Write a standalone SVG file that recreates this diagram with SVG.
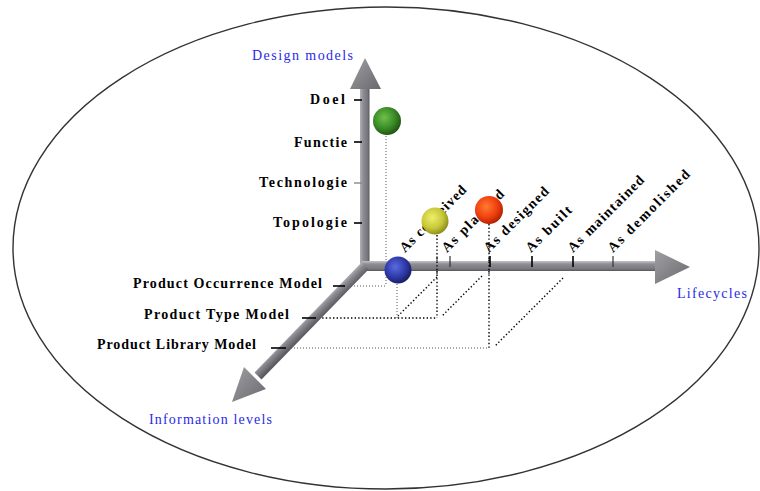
<svg xmlns="http://www.w3.org/2000/svg" width="760" height="491" viewBox="0 0 760 491">
  <style>
    .lbl { font-family: "Liberation Serif", "Times New Roman", serif; font-size: 14px; font-weight: bold; fill: #000; }
    .axis-title { font-family: "Liberation Serif", "Times New Roman", serif; font-size: 14px; fill: #2a2ae6; }
    .tick { stroke: #000; stroke-width: 1.6; }
    .dot-heavy { stroke: #000; stroke-width: 1.4; stroke-dasharray: 1.4 2.2; fill: none; }
    .dot-light { stroke: #555; stroke-width: 1; stroke-dasharray: 1 2; fill: none; }
  </style>
  <defs>
    <linearGradient id="shaftH" x1="0" y1="0" x2="0" y2="1">
      <stop offset="0" stop-color="#c4c4c8"/>
      <stop offset="0.3" stop-color="#8e8e94"/>
      <stop offset="0.8" stop-color="#77777d"/>
      <stop offset="1" stop-color="#55555b"/>
    </linearGradient>
    <linearGradient id="shaftV" x1="0" y1="0" x2="1" y2="0">
      <stop offset="0" stop-color="#b0b0b6"/>
      <stop offset="0.35" stop-color="#8c8c92"/>
      <stop offset="0.8" stop-color="#75757b"/>
      <stop offset="1" stop-color="#55555b"/>
    </linearGradient>
    <linearGradient id="shaftD" gradientUnits="userSpaceOnUse" x1="361" y1="262" x2="369" y2="270">
      <stop offset="0" stop-color="#b8b8bd"/>
      <stop offset="0.35" stop-color="#8c8c92"/>
      <stop offset="1" stop-color="#5a5a60"/>
    </linearGradient>
    <linearGradient id="head" x1="0" y1="0" x2="1" y2="1">
      <stop offset="0" stop-color="#a0a0a4"/>
      <stop offset="1" stop-color="#68686e"/>
    </linearGradient>
    <radialGradient id="ballGreen" cx="0.4" cy="0.38" r="0.65">
      <stop offset="0" stop-color="#6cc24a"/>
      <stop offset="0.6" stop-color="#3a8a26"/>
      <stop offset="1" stop-color="#1e5212"/>
    </radialGradient>
    <radialGradient id="ballYellow" cx="0.4" cy="0.38" r="0.65">
      <stop offset="0" stop-color="#eeee70"/>
      <stop offset="0.6" stop-color="#c8c838"/>
      <stop offset="1" stop-color="#8a8a1a"/>
    </radialGradient>
    <radialGradient id="ballRed" cx="0.4" cy="0.38" r="0.65">
      <stop offset="0" stop-color="#ff7a30"/>
      <stop offset="0.6" stop-color="#f04010"/>
      <stop offset="1" stop-color="#b02000"/>
    </radialGradient>
    <radialGradient id="ballBlue" cx="0.4" cy="0.38" r="0.65">
      <stop offset="0" stop-color="#5a6ae0"/>
      <stop offset="0.6" stop-color="#2e3aa8"/>
      <stop offset="1" stop-color="#161c60"/>
    </radialGradient>
  </defs>

  <!-- enclosing ellipse -->
  <ellipse id="frame" cx="386" cy="248" rx="373" ry="241" fill="none" stroke="#333" stroke-width="1.4"/>

  <!-- projection lines -->
  <g id="connectors">
    <!-- light projections -->
    <line class="dot-light" x1="386" y1="136" x2="386" y2="286"/>
    <line class="dot-light" x1="345" y1="286" x2="386" y2="286"/>
    <line class="dot-light" x1="397" y1="284" x2="397" y2="318"/>
    <line class="dot-light" x1="285" y1="348" x2="489" y2="348"/>
    <!-- heavy projections -->
    <line class="dot-heavy" x1="315" y1="318" x2="437" y2="318"/>
    <line class="dot-heavy" x1="437" y1="235" x2="437" y2="318"/>
    <line class="dot-heavy" x1="489" y1="224" x2="489" y2="348"/>
    <!-- diagonal projections -->
    <line class="dot-heavy" x1="437" y1="277" x2="398" y2="316"/>
    <line class="dot-heavy" x1="482" y1="276" x2="442" y2="316"/>
    <line class="dot-heavy" x1="563" y1="278" x2="495" y2="346"/>
  </g>

  <!-- axes -->
  <g id="axis-design">
    <rect x="360" y="86" width="9.5" height="181" fill="url(#shaftV)"/>
    <polygon points="350,89 365,58 381,89" fill="url(#head)"/>
  </g>
  <g id="axis-lifecycle">
    <rect x="362" y="261" width="294" height="10" fill="url(#shaftH)"/>
    <polygon points="655,250 690,267 655,284" fill="url(#head)"/>
  </g>
  <g id="axis-information">
    <polygon points="361.5,262.5 368.5,269.5 261.5,379.5 254.5,372.5" fill="url(#shaftD)"/>
    <polygon points="244,367 266,389 232,402" fill="url(#head)"/>
  </g>

  <!-- dots crossing the horizontal shaft -->
  <g id="crossings">
    <line class="dot-heavy" x1="437" y1="258" x2="437" y2="274"/>
    <line class="dot-heavy" x1="489" y1="258" x2="489" y2="274"/>
  </g>

  <!-- ticks -->
  <g id="ticks">
    <line class="tick" x1="354" y1="100" x2="362" y2="100"/>
    <line class="tick" x1="354" y1="142" x2="362" y2="142"/>
    <line x1="354" y1="183" x2="362" y2="183" stroke="#888" stroke-width="1.4"/>
    <line class="tick" x1="354" y1="223" x2="362" y2="223"/>
    <line x1="450" y1="256" x2="450" y2="267" stroke="#333" stroke-width="1.2"/>
    <line class="tick" x1="490" y1="256" x2="490" y2="267"/>
    <line class="tick" x1="532" y1="256" x2="532" y2="267"/>
    <line class="tick" x1="573" y1="256" x2="573" y2="267"/>
    <line x1="613" y1="256" x2="613" y2="267" stroke="#333" stroke-width="1.2"/>
    <line class="tick" x1="333" y1="286" x2="345" y2="286"/>
    <line class="tick" x1="302" y1="318" x2="316" y2="318"/>
    <line class="tick" x1="271" y1="348" x2="286" y2="348"/>
  </g>

  <!-- axis titles -->
  <text class="axis-title" x="252" y="60" textLength="101" lengthAdjust="spacing">Design models</text>
  <text class="axis-title" x="677" y="298" textLength="70" lengthAdjust="spacing">Lifecycles</text>
  <text class="axis-title" x="149" y="424" textLength="123" lengthAdjust="spacing">Information levels</text>

  <!-- design model levels -->
  <g id="design-levels">
    <text class="lbl" x="310" y="104" textLength="35" lengthAdjust="spacing">Doel</text>
    <text class="lbl" x="294" y="147" textLength="53" lengthAdjust="spacing">Functie</text>
    <text class="lbl" x="259" y="187" textLength="88" lengthAdjust="spacing">Technologie</text>
    <text class="lbl" x="273" y="227" textLength="74" lengthAdjust="spacing">Topologie</text>
  </g>

  <!-- information levels -->
  <g id="info-levels">
    <text class="lbl" x="133" y="288" textLength="189" lengthAdjust="spacing">Product Occurrence Model</text>
    <text class="lbl" x="144" y="319" textLength="145" lengthAdjust="spacing">Product Type Model</text>
    <text class="lbl" x="97" y="349" textLength="159" lengthAdjust="spacing">Product Library Model</text>
  </g>

  <!-- lifecycle stages -->
  <g id="lifecycle-stages">
    <text class="lbl" transform="translate(405,253) rotate(-45)" textLength="88" lengthAdjust="spacing">As conceived</text>
    <text class="lbl" transform="translate(447,253) rotate(-45)" textLength="82" lengthAdjust="spacing">As planned</text>
    <text class="lbl" transform="translate(489,253) rotate(-45)" textLength="86" lengthAdjust="spacing">As designed</text>
    <text class="lbl" transform="translate(531,253) rotate(-45)" textLength="59" lengthAdjust="spacing">As built</text>
    <text class="lbl" transform="translate(573,253) rotate(-45)" textLength="102" lengthAdjust="spacing">As maintained</text>
    <text class="lbl" transform="translate(613,253) rotate(-45)" textLength="110" lengthAdjust="spacing">As demolished</text>
  </g>

  <!-- position markers -->
  <g id="ball-green"><circle cx="387" cy="121" r="14" fill="url(#ballGreen)"/></g>
  <g id="ball-yellow"><circle cx="435" cy="221" r="13.5" fill="url(#ballYellow)"/></g>
  <g id="ball-red"><circle cx="489" cy="210" r="14" fill="url(#ballRed)"/></g>
  <g id="ball-blue"><circle cx="398" cy="270" r="13.5" fill="url(#ballBlue)"/></g>
</svg>
